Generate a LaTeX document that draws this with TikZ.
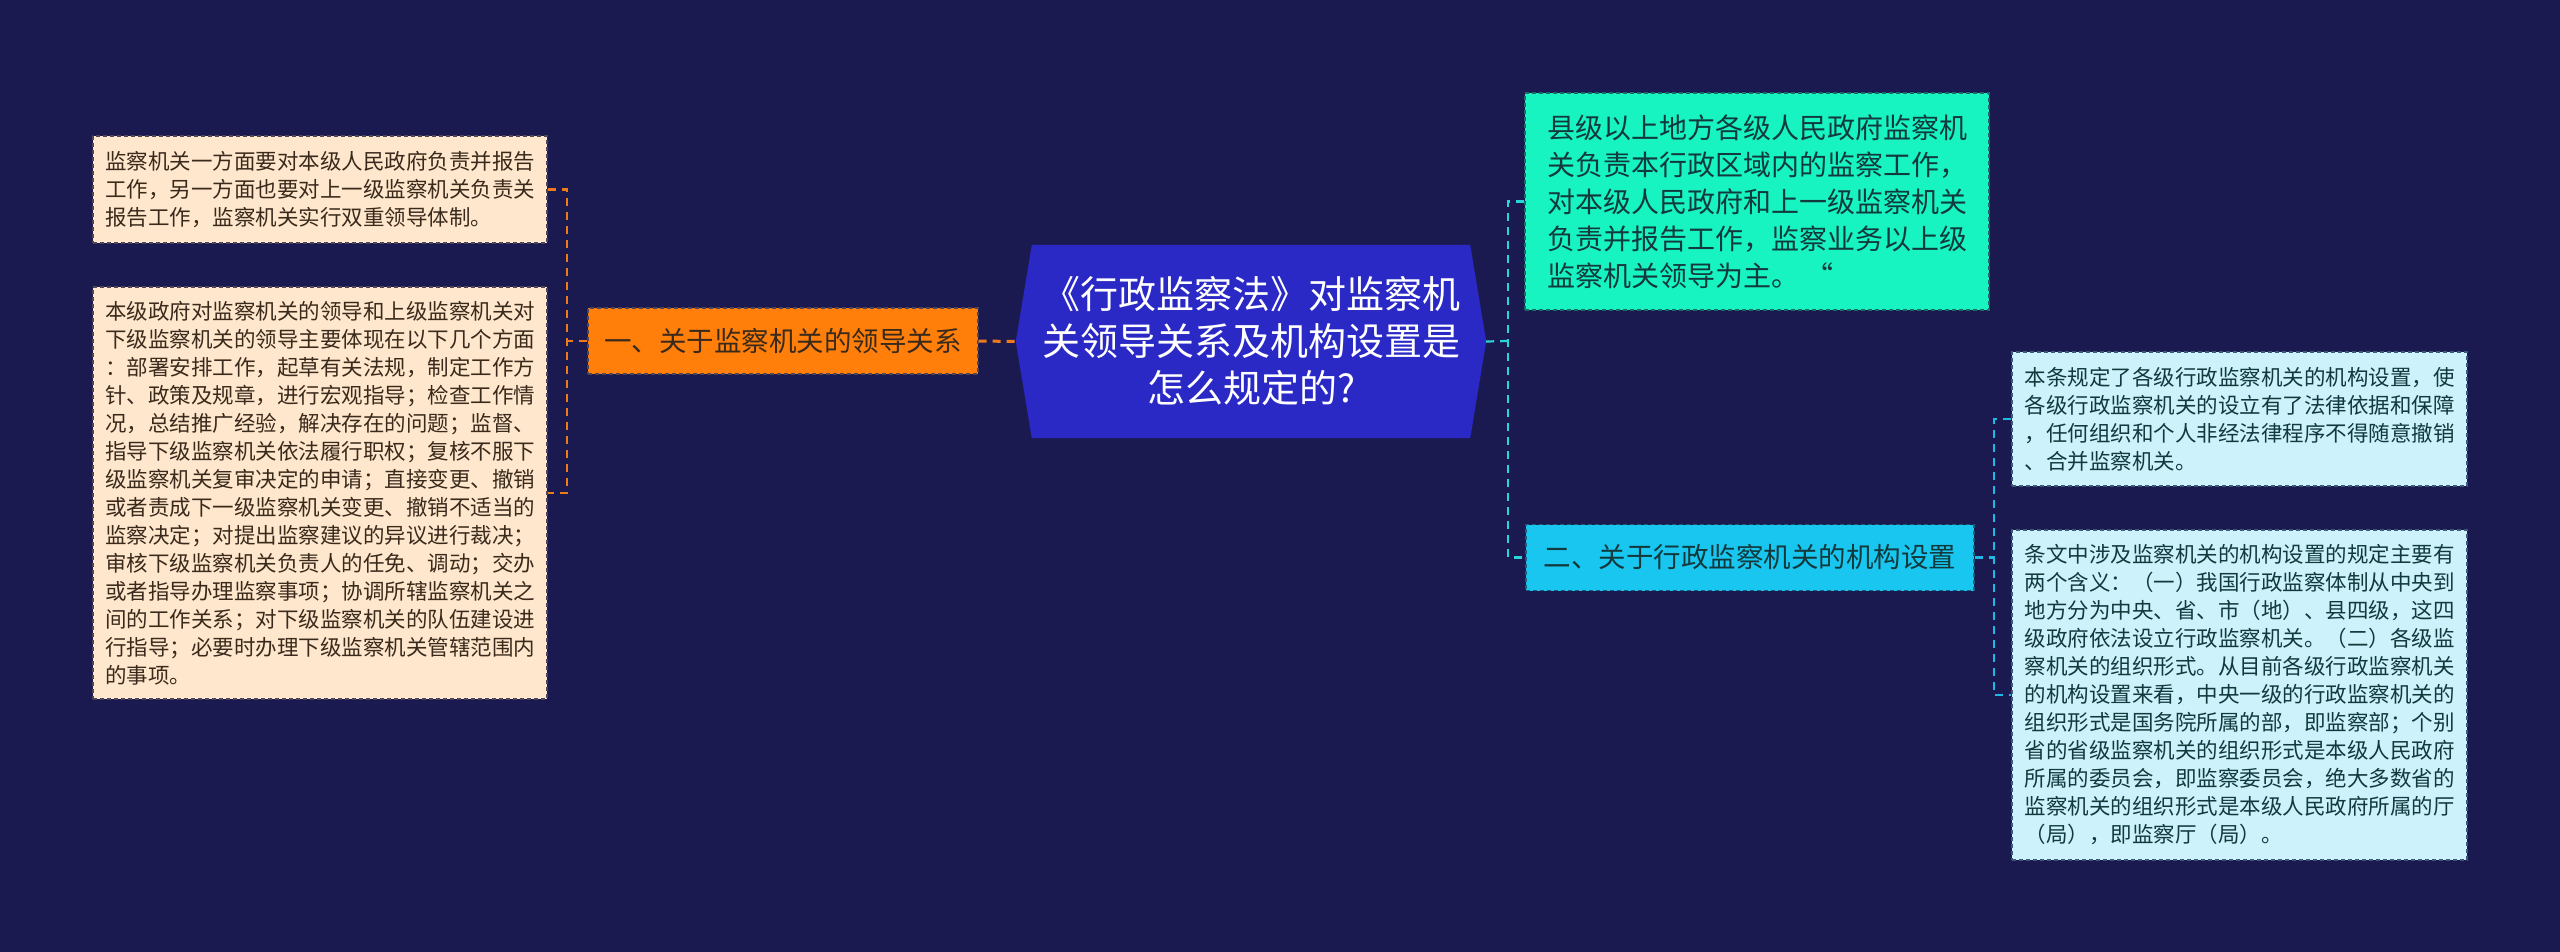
\documentclass[tikz,border=0pt]{standalone}
\usepackage{fontspec}
\newfontfamily\cjk{Noto Sans CJK SC}
\usetikzlibrary{positioning, backgrounds}
\definecolor{navybg}{HTML}{1B1A50}
\definecolor{rootblue}{HTML}{2A29C6}
\definecolor{peach}{HTML}{FFE7CD}
\definecolor{peachline}{HTML}{4E4556}
\definecolor{peachtext}{HTML}{3A2A1C}
\definecolor{branchorange}{HTML}{FF7F0A}
\definecolor{linkorange}{HTML}{EE7A1C}
\definecolor{mint}{HTML}{18F3C2}
\definecolor{mintline}{HTML}{1B6A66}
\definecolor{skyblue}{HTML}{19C6F0}
\definecolor{skyline}{HTML}{1A5E78}
\definecolor{icecyan}{HTML}{CDF2FC}
\definecolor{iceline}{HTML}{3C5A78}
\definecolor{tealtext}{HTML}{123A3C}
\definecolor{linkmint}{HTML}{26D6DA}
\definecolor{linksky}{HTML}{1FB9E6}
\tikzset{
  rootbox/.style={rectangle, minimum width=470pt, minimum height=193pt, inner sep=0pt, align=center, text=white, font=\cjk\fontsize{38}{47}\selectfont},
  orangebranch/.style={rectangle, minimum width=390pt, minimum height=66pt, inner sep=0pt, fill=branchorange, draw=peachline, dash pattern=on 4pt off 3pt, line width=1.2pt, text=peachtext, font=\cjk\fontsize{27.5}{34}\selectfont},
  cyanbranch/.style={rectangle, minimum width=448pt, minimum height=66pt, inner sep=0pt, fill=skyblue, draw=skyline, dash pattern=on 4pt off 3pt, line width=1.2pt, text=tealtext, font=\cjk\fontsize{27.5}{34}\selectfont},
  greenleaf/.style={rectangle, minimum width=464pt, minimum height=217pt, inner sep=0pt, fill=mint, draw=mintline, dash pattern=on 4pt off 3pt, line width=1.2pt, text=tealtext, align=left, font=\cjk\fontsize{28}{37}\selectfont},
  peachleaf/.style={rectangle, minimum width=454pt, inner sep=0pt, fill=peach, draw=peachline, dash pattern=on 4pt off 3pt, line width=1.2pt, text=peachtext, align=left, font=\cjk\fontsize{21.5}{28}\selectfont},
  cyanleaf/.style={rectangle, minimum width=455pt, inner sep=0pt, fill=icecyan, draw=iceline, dash pattern=on 4pt off 3pt, line width=1.2pt, text=tealtext, align=left, font=\cjk\fontsize{21.5}{28}\selectfont},
  orangelink/.style={draw=linkorange, line width=2.2pt, dash pattern=on 8pt off 6pt},
  mintlink/.style={draw=linkmint, line width=2.2pt, dash pattern=on 8pt off 6pt},
  skylink/.style={draw=linksky, line width=2.2pt, dash pattern=on 8pt off 6pt}
}
\begin{document}
\begin{tikzpicture}[x=1pt, y=-1pt]
  \useasboundingbox (0,0) rectangle (2560,952);

  % centre topic
  \node (root) [rootbox] at (1251,341.5) {《行政监察法》对监察机\\关领导关系及机构设置是\\怎么规定的?};

  % left branch
  \node (lead) [orangebranch] at (783,341) {一、关于监察机关的领导关系};
  \node (leadA) [peachleaf, minimum height=107pt] at (320,189.5) {监察机关一方面要对本级人民政府负责并报告\\工作，另一方面也要对上一级监察机关负责关\\报告工作，监察机关实行双重领导体制。};
  \node (leadB) [peachleaf, minimum height=412pt] at (320,493) {本级政府对监察机关的领导和上级监察机关对\\下级监察机关的领导主要体现在以下几个方面\\：部署安排工作，起草有关法规，制定工作方\\针、政策及规章，进行宏观指导；检查工作情\\况，总结推广经验，解决存在的问题；监督、\\指导下级监察机关依法履行职权；复核不服下\\级监察机关复审决定的申请；直接变更、撤销\\或者责成下一级监察机关变更、撤销不适当的\\监察决定；对提出监察建议的异议进行裁决；\\审核下级监察机关负责人的任免、调动；交办\\或者指导办理监察事项；协调所辖监察机关之\\间的工作关系；对下级监察机关的队伍建设进\\行指导；必要时办理下级监察机关管辖范围内\\的事项。};

  % right branch
  \node (summary) [greenleaf] at (1757,201.5) {县级以上地方各级人民政府监察机\\关负责本行政区域内的监察工作，\\对本级人民政府和上一级监察机关\\负责并报告工作，监察业务以上级\\监察机关领导为主。 “};
  \node (organ) [cyanbranch] at (1750,557.5) {二、关于行政监察机关的机构设置};
  \node (organA) [cyanleaf, minimum height=134pt] at (2239.5,419) {本条规定了各级行政监察机关的机构设置，使\\各级行政监察机关的设立有了法律依据和保障\\，任何组织和个人非经法律程序不得随意撤销\\、合并监察机关。};
  \node (organB) [cyanleaf, minimum height=330pt] at (2239.5,695) {条文中涉及监察机关的机构设置的规定主要有\\两个含义：（一）我国行政监察体制从中央到\\地方分为中央、省、市（地）、县四级，这四\\级政府依法设立行政监察机关。（二）各级监\\察机关的组织形式。从目前各级行政监察机关\\的机构设置来看，中央一级的行政监察机关的\\组织形式是国务院所属的部，即监察部；个别\\省的省级监察机关的组织形式是本级人民政府\\所属的委员会，即监察委员会，绝大多数省的\\监察机关的组织形式是本级人民政府所属的厅\\（局），即监察厅（局）。};

  \coordinate (lj) at (567,341);
  \coordinate (rj) at (1508,341);
  \coordinate (oj) at (1994,557.5);

  \draw [orangelink] (lead.west) -- (lj);
  \draw [orangelink] (leadA.east) -| (lj) |- (leadB.east);
  \draw [orangelink, line width=3pt] (lead.east) -- (root.west);
  \draw [mintlink] (root.east) -- (rj);
  \draw [mintlink] (summary.west) -| (rj) |- (organ.west);
  \draw [skylink] (organ.east) -- (oj);
  \draw [skylink] (organA.west) -| (oj) |- (organB.west);

  \begin{scope}[on background layer]
    \fill [navybg] (0,0) rectangle (2560,952);
    \fill [rootblue] ([xshift=16pt]root.north west) -- ([xshift=-16pt]root.north east) -- (root.east)
      -- ([xshift=-16pt]root.south east) -- ([xshift=16pt]root.south west) -- (root.west) -- cycle;
  \end{scope}
\end{tikzpicture}
\end{document}
